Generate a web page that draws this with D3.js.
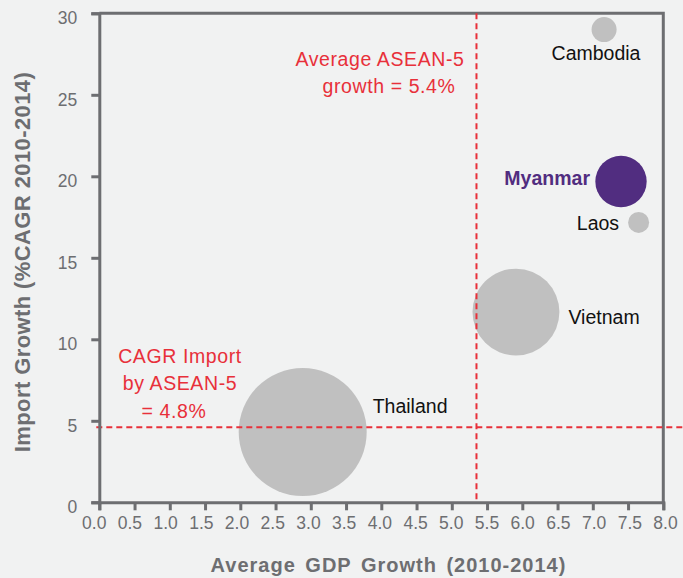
<!DOCTYPE html>
<html>
<head>
<meta charset="utf-8">
<script src="https://cdn.jsdelivr.net/npm/d3@7"></script>
<style>
  body { margin: 0; background: #f1f2f2; }
  svg { display: block; font-family: "Liberation Sans", Arial, sans-serif; }
</style>
</head>
<body>
<div id="chart"></div>
<script>
// data
var countries = ["Thailand", "Vietnam", "Myanmar", "Cambodia", "Laos"];
var gdpGrowth = [2.885, 5.91, 7.40, 7.16, 7.65];      // x, avg GDP growth %
var importGrowth = [4.31, 11.67, 19.68, 29.0, 17.17]; // y, import CAGR %
var importSize = [230, 106, 37, 8.8, 6.2];           // bubble size (estimated)
var xTicks = [0, 0.5, 1, 1.5, 2, 2.5, 3, 3.5, 4, 4.5, 5, 5.5, 6, 6.5, 7, 7.5, 8];
var yTicks = [0, 5, 10, 15, 20, 25, 30];
var avgGdpLine = 5.35;     // drawn position of the "5.4%" line
var avgImportLine = 4.6;   // drawn position of the "4.8%" line

var svgWidth = 683;
var svgHeight = 578;

var chartMargin = { top: 13.3, right: 19.7, bottom: 75.7, left: 99.3 };
var chartWidth = svgWidth - chartMargin.left - chartMargin.right;
var chartHeight = svgHeight - chartMargin.top - chartMargin.bottom;

var gray = "#6d6e71";
var red = "#e8303a";

var svg = d3.select("#chart")
  .append("svg")
  .attr("width", svgWidth)
  .attr("height", svgHeight);

svg.append("rect")
  .attr("width", svgWidth)
  .attr("height", svgHeight)
  .attr("fill", "#f1f2f2");

var chartGroup = svg.append("g")
  .attr("transform", `translate(${chartMargin.left}, ${chartMargin.top})`);

var xScale = d3.scaleLinear().domain([0, 8]).range([0, chartWidth]);
var yScale = d3.scaleLinear().domain([0, 30]).range([chartHeight, 0]);
var rScale = d3.scaleSqrt().domain([0, 230]).range([0, 64]);
// the tick labels sit a little off their ticks in the original
var xLabelScale = d3.scaleLinear().domain([0, 8]).range([-5.6, chartWidth + 1.7]);

// frame: top and right lines
chartGroup.append("path")
  .attr("d", `M0,0H${chartWidth}V${chartHeight}`)
  .attr("fill", "none")
  .attr("stroke", gray)
  .attr("stroke-width", 3);

// bubbles
var points = countries.map(function(c, i) {
  return { name: c, x: gdpGrowth[i], y: importGrowth[i], size: importSize[i] };
});

chartGroup.selectAll(".bubble")
  .data(points)
  .enter()
  .append("circle")
  .attr("class", "bubble")
  .attr("cx", d => xScale(d.x))
  .attr("cy", d => yScale(d.y))
  .attr("r", d => rScale(d.size))
  .attr("fill", d => d.name == "Myanmar" ? "#512d80" : "#c0c0c0");

// reference lines
chartGroup.append("line")
  .attr("x1", xScale(avgGdpLine)).attr("x2", xScale(avgGdpLine))
  .attr("y1", 0).attr("y2", chartHeight)
  .attr("stroke", red).attr("stroke-width", 2)
  .attr("stroke-dasharray", "6,4");

chartGroup.append("line")
  .attr("x1", -3).attr("x2", svgWidth - chartMargin.left)
  .attr("y1", yScale(avgImportLine)).attr("y2", yScale(avgImportLine))
  .attr("stroke", red).attr("stroke-width", 2)
  .attr("stroke-dasharray", "6,4");

// axes
var xAxis = d3.axisBottom(xScale).tickValues(xTicks).tickSize(8).tickPadding(6)
  .tickFormat(d3.format(".1f"));
var yAxis = d3.axisLeft(yScale).tickValues(yTicks).tickSize(8).tickPadding(14);

var gx = chartGroup.append("g")
  .attr("transform", `translate(0, ${chartHeight})`)
  .call(xAxis);
gx.selectAll("text").attr("x", d => xLabelScale(d) - xScale(d));

var gy = chartGroup.append("g").call(yAxis);
gy.selectAll("text").attr("dy", "0.6em");

[gx, gy].forEach(function(g) {
  g.select(".domain").attr("stroke", gray).attr("stroke-width", 3);
  g.selectAll(".tick line").attr("stroke", gray).attr("stroke-width", 3);
  g.selectAll("text")
    .attr("fill", gray)
    .style("font-size", "17.5px")
    .style("font-family", "'Liberation Sans', Arial, sans-serif");
});

// axis titles
svg.append("text")
  .attr("x", 388.5).attr("y", 572)
  .attr("text-anchor", "middle")
  .attr("fill", gray)
  .style("font-size", "20px").style("font-weight", "bold")
  .style("letter-spacing", "1px").style("word-spacing", "3px")
  .text("Average GDP Growth (2010-2014)");

svg.append("text")
  .attr("transform", "translate(29.5, 262) rotate(-90)")
  .attr("text-anchor", "middle")
  .attr("fill", gray)
  .style("font-size", "22px").style("font-weight", "bold")
  .style("letter-spacing", "0.4px")
  .text("Import Growth (%CAGR 2010-2014)");

// country labels, placed relative to each bubble centre
var labelPlacement = {
  "Thailand": { anchor: "start", dx: 70, dy: -19 },
  "Vietnam": { anchor: "start", dx: 52.5, dy: 12 },
  "Myanmar": { anchor: "end", dx: -31, dy: 3.5 },
  "Cambodia": { anchor: "start", dx: -52.5, dy: 30 },
  "Laos": { anchor: "end", dx: -19.5, dy: 7.5 }
};

chartGroup.selectAll(".label")
  .data(points)
  .enter()
  .append("text")
  .attr("class", "label")
  .attr("x", d => xScale(d.x) + labelPlacement[d.name].dx)
  .attr("y", d => yScale(d.y) + labelPlacement[d.name].dy)
  .attr("text-anchor", d => labelPlacement[d.name].anchor)
  .attr("fill", d => d.name == "Myanmar" ? "#512d80" : "#111")
  .style("font-weight", d => d.name == "Myanmar" ? "bold" : "normal")
  .style("font-size", "19.5px")
  .text(d => d.name);

// red annotations
var notes = [
  { text: "Average ASEAN-5", x: 380, y: 66 },
  { text: "growth = 5.4%", x: 389, y: 93 },
  { text: "CAGR Import", x: 180, y: 363 },
  { text: "by ASEAN-5", x: 180, y: 390 },
  { text: "= 4.8%", x: 174, y: 418 }
];

svg.selectAll(".note")
  .data(notes)
  .enter()
  .append("text")
  .attr("class", "note")
  .attr("x", d => d.x)
  .attr("y", d => d.y)
  .attr("text-anchor", "middle")
  .attr("fill", red)
  .style("font-size", "19.5px")
  .style("letter-spacing", "0.6px")
  .text(d => d.text);
</script>
</body>
</html>
